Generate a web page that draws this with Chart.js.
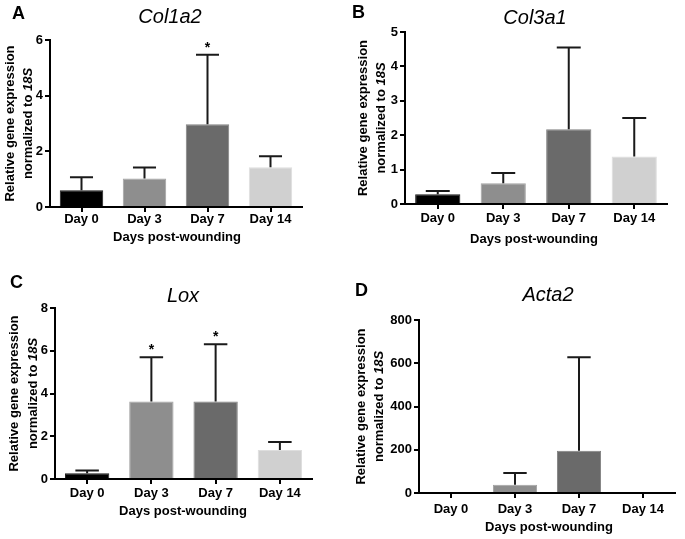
<!DOCTYPE html>
<html>
<head>
<meta charset="utf-8">
<script src="https://cdn.jsdelivr.net/npm/chart.js@4.4.0/dist/chart.umd.min.js"></script>
<style>
  html, body { margin: 0; padding: 0; background: #fff; }
  #wrap { position: relative; width: 685px; height: 539px; overflow: hidden; }
  canvas { position: absolute; }
</style>
</head>
<body>
<div id="wrap">
  <canvas id="cA" width="342" height="270" style="left:0;top:0"></canvas>
  <canvas id="cB" width="343" height="270" style="left:342px;top:0"></canvas>
  <canvas id="cC" width="342" height="269" style="left:0;top:270px"></canvas>
  <canvas id="cD" width="343" height="269" style="left:342px;top:270px"></canvas>
</div>
<script>
// ---------------- DATA ----------------
const days = ["Day 0", "Day 3", "Day 7", "Day 14"];
const xAxisTitle = "Days post-wounding";
const yTitleLine1 = "Relative gene expression";
const yTitleLine2 = "normalized to ";
const yTitleRef = "18S";

const col1a2Mean = [0.60, 1.02, 2.97, 1.43];
const col1a2Sd   = [0.47, 0.40, 2.50, 0.39];
const col1a2Sig  = [false, false, true, false];

const col3a1Mean = [0.28, 0.60, 2.17, 1.38];
const col3a1Sd   = [0.10, 0.30, 2.38, 1.12];
const col3a1Sig  = [false, false, false, false];

const loxMean = [0.27, 3.62, 3.62, 1.36];
const loxSd   = [0.13, 2.08, 2.68, 0.37];
const loxSig  = [false, true, true, false];

const acta2Mean = [0.8, 38, 195, 0.6];
const acta2Sd   = [0, 54, 433, 0];
const acta2Sig  = [false, false, false, false];

// ---------------- STYLE / LAYOUT ----------------
const FONT = "'Liberation Sans', Arial, Helvetica, sans-serif";
const barFill   = ["#000000", "#8e8e8e", "#6a6a6a", "#d0d0d0"];
const barBorder = ["#1a1a1a", "#a2a2a2", "#818181", "#dedede"];

const panels = [
  { canvas: "cA", letter: "A", gene: "Col1a2", mean: col1a2Mean, sd: col1a2Sd, sig: col1a2Sig,
    max: 6, step: 2, w: 342, h: 270, area: { l: 50, t: 40, r: 302, b: 207 },
    letterPos: [12, 14], titlePos: [170, 17.5], xTitlePos: [177, 237.5], yTitleX: [10, 28], xPad: 0 },
  { canvas: "cB", letter: "B", gene: "Col3a1", mean: col3a1Mean, sd: col3a1Sd, sig: col3a1Sig,
    max: 5, step: 1, w: 343, h: 270, area: { l: 63, t: 32, r: 325, b: 204 },
    letterPos: [10, 13], titlePos: [193, 18.5], xTitlePos: [192, 239], yTitleX: [21, 39], xPad: 1.5 },
  { canvas: "cC", letter: "C", gene: "Lox", mean: loxMean, sd: loxSd, sig: loxSig,
    max: 8, step: 2, w: 342, h: 269, area: { l: 55, t: 38, r: 312, b: 209 },
    letterPos: [10, 13], titlePos: [183, 26], xTitlePos: [183, 241], yTitleX: [14, 33], xPad: 2 },
  { canvas: "cD", letter: "D", gene: "Acta2", mean: acta2Mean, sd: acta2Sd, sig: acta2Sig,
    max: 800, step: 200, w: 343, h: 269, area: { l: 77, t: 50, r: 333, b: 223 },
    letterPos: [13, 21], titlePos: [206, 25], xTitlePos: [207, 257.5], yTitleX: [19, 37], xPad: 4 }
];

// Error bars, significance stars and text annotations
const annotate = {
  id: "annotate",
  afterDatasetsDraw(chart, args, opts) {
    const p = opts.panel;
    const ctx = chart.ctx;
    const ys = chart.scales.y;
    const meta = chart.getDatasetMeta(0);
    ctx.save();
    meta.data.forEach((bar, i) => {
      const sd = p.sd[i];
      const yMean = ys.getPixelForValue(p.mean[i]);
      const yTop = ys.getPixelForValue(p.mean[i] + sd);
      if (sd > 0) {
        const cap = bar.width * 0.53;
        ctx.strokeStyle = "#1a1a1a";
        ctx.lineWidth = 2;
        ctx.beginPath();
        ctx.moveTo(bar.x, yMean);
        ctx.lineTo(bar.x, yTop);
        ctx.moveTo(bar.x - cap / 2, yTop);
        ctx.lineTo(bar.x + cap / 2, yTop);
        ctx.stroke();
      }
      if (p.sig[i]) {
        ctx.fillStyle = "#000";
        ctx.font = "bold 14px " + FONT;
        ctx.textAlign = "center";
        ctx.textBaseline = "alphabetic";
        ctx.fillText("*", bar.x, yTop - 3);
      }
    });
    ctx.restore();
  },
  afterDraw(chart, args, opts) {
    const p = opts.panel;
    const ctx = chart.ctx;
    const a = chart.chartArea;
    ctx.save();
    ctx.fillStyle = "#000";
    // panel letter
    ctx.font = "bold 18px " + FONT;
    ctx.textAlign = "left";
    ctx.textBaseline = "middle";
    ctx.fillText(p.letter, p.letterPos[0], p.letterPos[1]);
    // gene title
    ctx.font = "italic 20px " + FONT;
    ctx.textAlign = "center";
    ctx.fillText(p.gene, p.titlePos[0], p.titlePos[1]);
    // x title
    ctx.font = "bold 13px " + FONT;
    ctx.fillText(xAxisTitle, p.xTitlePos[0], p.xTitlePos[1]);
    // y title (rotated, two lines, 18S italic)
    const yc = (a.top + a.bottom) / 2;
    ctx.save();
    ctx.translate(p.yTitleX[0], yc);
    ctx.rotate(-Math.PI / 2);
    ctx.font = "bold 13px " + FONT;
    ctx.textAlign = "center";
    ctx.fillText(yTitleLine1, 0, 0);
    ctx.restore();
    ctx.save();
    ctx.translate(p.yTitleX[1], yc);
    ctx.rotate(-Math.PI / 2);
    ctx.font = "bold 13px " + FONT;
    const w1 = ctx.measureText(yTitleLine2).width;
    ctx.font = "italic bold 13px " + FONT;
    const w2 = ctx.measureText(yTitleRef).width;
    const x0 = -(w1 + w2) / 2;
    ctx.textAlign = "left";
    ctx.font = "bold 13px " + FONT;
    ctx.fillText(yTitleLine2, x0, 0);
    ctx.font = "italic bold 13px " + FONT;
    ctx.fillText(yTitleRef, x0 + w1, 0);
    ctx.restore();
    ctx.restore();
  }
};

panels.forEach(p => {
  const a = p.area;
  new Chart(document.getElementById(p.canvas), {
    type: "bar",
    data: {
      labels: days,
      datasets: [{
        data: p.mean,
        backgroundColor: barFill,
        borderColor: barBorder,
        borderWidth: c => (c.raw < p.max * 0.01 ? 0 : 1),
        barPercentage: 0.69,
        categoryPercentage: 1.0
      }]
    },
    options: {
      responsive: false,
      animation: false,
      devicePixelRatio: 1,
      layout: { padding: { left: 0, top: a.t, right: p.w - a.r, bottom: 0 } },
      plugins: {
        legend: { display: false },
        tooltip: { enabled: false },
        title: { display: false },
        annotate: { panel: p }
      },
      scales: {
        x: {
          offset: true,
          border: { display: true, color: "#000", width: 2, z: 1 },
          grid: { display: true, offset: false, drawOnChartArea: false, drawTicks: true,
                  tickLength: 5, color: "#000", lineWidth: 2 },
          ticks: { color: "#000", font: { family: FONT, size: 13, weight: "bold" },
                   padding: p.xPad, maxRotation: 0, autoSkip: false },
          afterFit: s => { s.height = p.h - a.b; }
        },
        y: {
          min: 0, max: p.max,
          border: { display: true, color: "#000", width: 2 },
          grid: { display: true, drawOnChartArea: false, drawTicks: true,
                  tickLength: 5, color: "#000", lineWidth: 2 },
          ticks: { stepSize: p.step, color: "#000", font: { family: FONT, size: 13, weight: "bold" },
                   padding: 2 },
          afterFit: s => { s.width = a.l; }
        }
      }
    },
    plugins: [annotate]
  });
});
</script>
</body>
</html>
